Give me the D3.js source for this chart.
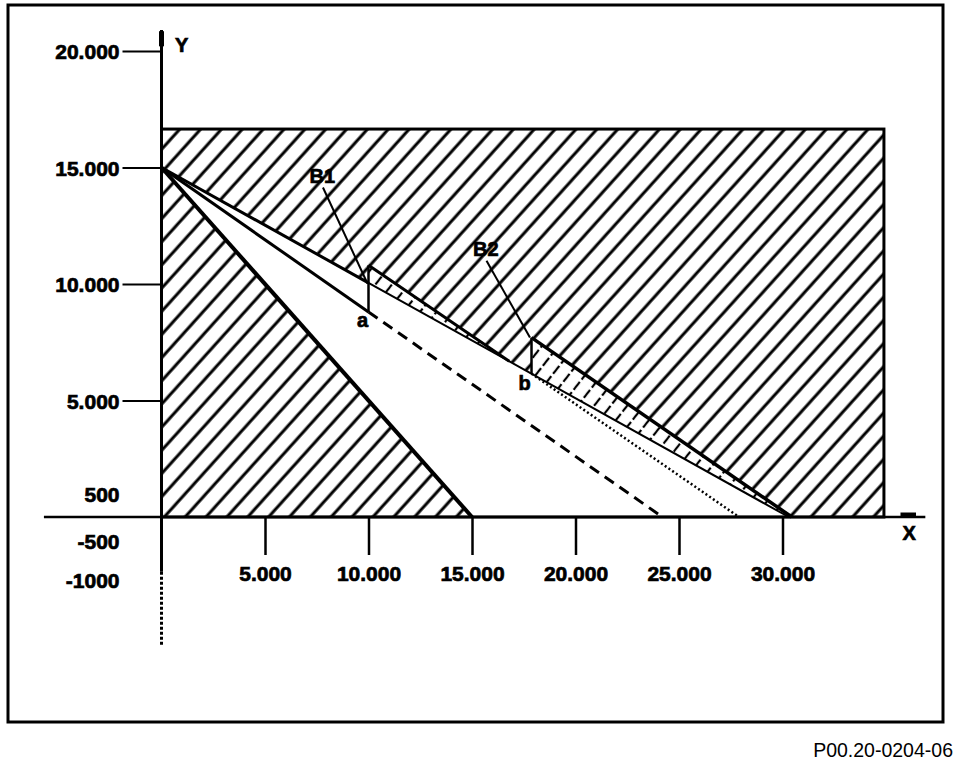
<!DOCTYPE html>
<html><head><meta charset="utf-8">
<script src="https://cdn.jsdelivr.net/npm/d3@7"></script>
<style>
html,body{margin:0;padding:0;background:#fff;}
svg{display:block;}
text{font-family:"Liberation Sans",Arial,Helvetica,sans-serif;}
.bold{font-weight:bold;stroke:#000;stroke-width:0.7px;}
</style></head>
<body>
<svg id="c" width="960" height="764"></svg>
<script>
// ---- data ----
const xTicks = [5000, 10000, 15000, 20000, 25000, 30000];
const yTicks = [5000, 10000, 15000, 20000];
const yExtraLabels = ["500", "-500", "-1000"];
const yExtraAt = [950, -1050, -2720];
const hatchBox = [34900, 16650];            // hatched field: width (x), height (y)
const origin = [0, 15000];                  // common start point
const lowLineEnd = [15000, 0];              // steep boundary
const baseLineEnd = [30300, 0];             // line through b
const pointA = [10000, 8800];
const stepATop = [10000, 10800];
const b1Join = 16800;                       // where B1 boundary meets base line
const pointBx = 17875;
const stepBTop = [17875, 7700];
const b2End = [30450, 0];
const dashedEnd = [24200, 0];
const dottedEnd = [27900, 0];
const footer = "P00.20-0204-06";

// ---- scales ----
const x = d3.scaleLinear().domain([0, 30000]).range([161.5, 782.5]);
const y = d3.scaleLinear().domain([0, 20000]).range([517, 51]);
const baseY = v => origin[1] * (1 - v / baseLineEnd[0]);
const pointB = [pointBx, baseY(pointBx)];

const svg = d3.select("#c");
const defs = svg.append("defs");
const pat = defs.append("pattern").attr("id", "hatch").attr("patternUnits", "userSpaceOnUse")
  .attr("width", 15.5).attr("height", 15.5).attr("patternTransform", "rotate(42)");
pat.append("line").attr("x1", 3).attr("y1", -2).attr("x2", 3).attr("y2", 18).attr("stroke", "#000").attr("stroke-width", 3);
const pat2 = defs.append("pattern").attr("id", "hatch2").attr("patternUnits", "userSpaceOnUse")
  .attr("width", 13).attr("height", 13).attr("patternTransform", "rotate(38)");
pat2.append("line").attr("x1", 3).attr("y1", 0).attr("x2", 3).attr("y2", 13).attr("stroke", "#000").attr("stroke-width", 2.2).attr("stroke-dasharray", "6,3");

// frame
svg.append("rect").attr("x", 8).attr("y", 5).attr("width", 935).attr("height", 717)
  .attr("fill", "none").attr("stroke", "#000").attr("stroke-width", 3);

const P = p => [x(p[0]), y(p[1])];
const line = d3.line();

// hatched field
svg.append("rect").attr("x", x(0)).attr("y", y(hatchBox[1]))
  .attr("width", x(hatchBox[0]) - x(0)).attr("height", y(0) - y(hatchBox[1]))
  .attr("fill", "url(#hatch)");
// white clear region
svg.append("path").attr("d", line([P(origin), P(baseLineEnd), P(lowLineEnd)]) + "Z").attr("fill", "#fff");
// B1 band
const b1Poly = [P(stepATop), P([10000, baseY(10000)]), P([b1Join, baseY(b1Join)])];
svg.append("path").attr("d", line(b1Poly) + "Z").attr("fill", "#fff");
svg.append("path").attr("d", line(b1Poly) + "Z").attr("fill", "url(#hatch2)");
// B2 band
const b2Poly = [P(stepBTop), P(pointB), P(baseLineEnd), P(b2End)];
svg.append("path").attr("d", line(b2Poly) + "Z").attr("fill", "#fff");
svg.append("path").attr("d", line(b2Poly) + "Z").attr("fill", "url(#hatch2)");
// outline of field
svg.append("rect").attr("x", x(0)).attr("y", y(hatchBox[1]))
  .attr("width", x(hatchBox[0]) - x(0)).attr("height", y(0) - y(hatchBox[1]))
  .attr("fill", "none").attr("stroke", "#000").attr("stroke-width", 3);

function seg(a, b, w, dash) {
  const s = svg.append("path").attr("d", line([P(a), P(b)])).attr("fill", "none")
    .attr("stroke", "#000").attr("stroke-width", w);
  if (dash) s.attr("stroke-dasharray", dash);
  return s;
}
seg(origin, lowLineEnd, 4);
seg(origin, [10000, baseY(10000)], 3);
seg([10000, baseY(10000)], baseLineEnd, 2);
seg(origin, pointA, 3);
seg(pointA, dashedEnd, 3, "11,7");
seg(stepATop, [b1Join, baseY(b1Join)], 3);
seg(pointA, stepATop, 2.5);
seg(pointB, stepBTop, 2.5);
seg(stepBTop, b2End, 3.5);
seg(pointB, dottedEnd, 2.5, "2,2.5");

// axes
const fmt = d3.formatLocale({decimal: ",", thousands: ".", grouping: [3], currency: ["", ""]}).format(",");
svg.append("line").attr("x1", x(-5680)).attr("x2", x(36900)).attr("y1", y(0)).attr("y2", y(0))
  .attr("stroke", "#000").attr("stroke-width", 2.5);
svg.append("line").attr("x1", x(35700)).attr("x2", x(36450)).attr("y1", y(0) - 2.5).attr("y2", y(0) - 2.5)
  .attr("stroke", "#000").attr("stroke-width", 4);
svg.append("line").attr("x1", x(0)).attr("x2", x(0)).attr("y1", y(20900)).attr("y2", y(-2350))
  .attr("stroke", "#000").attr("stroke-width", 3);
svg.append("line").attr("x1", x(0)).attr("x2", x(0)).attr("y1", y(20850)).attr("y2", y(20200))
  .attr("stroke", "#000").attr("stroke-width", 5);
svg.append("line").attr("x1", x(0)).attr("x2", x(0)).attr("y1", y(-2350)).attr("y2", y(-5500))
  .attr("stroke", "#000").attr("stroke-width", 3).attr("stroke-dasharray", "3,2");

const yAx = svg.append("g").attr("transform", `translate(${x(0)},0)`)
  .call(d3.axisLeft(y).tickValues(yTicks).tickSize(39).tickPadding(3).tickFormat(fmt));
yAx.select(".domain").remove();
yAx.selectAll("line").attr("stroke-width", 2);
yAx.selectAll("text").attr("class", "bold").attr("font-size", 21).attr("font-family", "Liberation Sans, Arial").attr("dy", "0.36em");

const xAx = svg.append("g").attr("transform", `translate(0,${y(0)})`)
  .call(d3.axisBottom(x).tickValues(xTicks).tickSize(38).tickPadding(11).tickFormat(fmt));
xAx.select(".domain").remove();
xAx.selectAll("line").attr("stroke-width", 2.5);
xAx.selectAll("text").attr("class", "bold").attr("font-size", 21).attr("font-family", "Liberation Sans, Arial");

svg.selectAll(".yx").data(yExtraLabels).enter().append("text").attr("class", "bold")
  .attr("x", x(0) - 42).attr("y", (d, i) => y(yExtraAt[i])).attr("dy", "0.36em")
  .attr("text-anchor", "end").attr("font-size", 21).text(d => d);

// axis names
function label(t, px, py) {
  svg.append("text").attr("class", "bold").attr("x", x(px)).attr("y", y(py)).attr("font-size", 20).text(t);
}
label("Y", 650, 19950);
label("X", 35800, -1000);

// leaders & labels
seg([7800, 14140], [9950, 10020], 2);
seg([15700, 11000], [17800, 7700], 2);
label("B1", 7150, 14350);
label("B2", 15050, 11200);
label("a", 9450, 8150);
label("b", 17250, 5450);

svg.append("text").attr("x", 953).attr("y", 757).attr("text-anchor", "end").attr("font-size", 19.5).text(footer);
</script>
</body></html>
